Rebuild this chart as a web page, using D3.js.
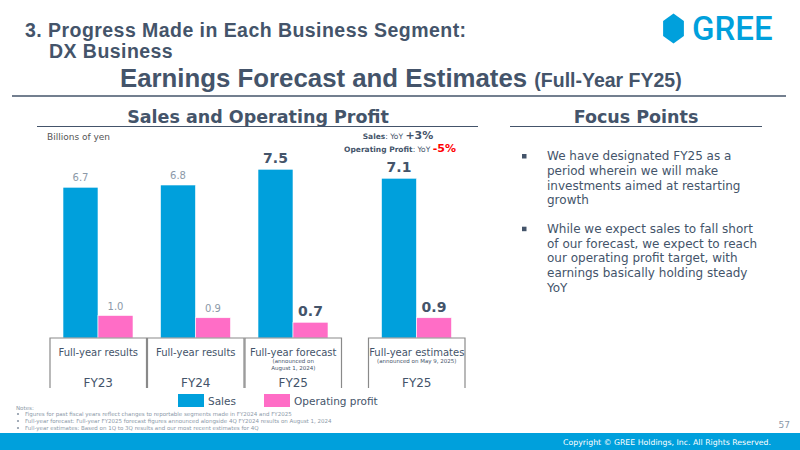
<!DOCTYPE html>
<html>
<head>
<meta charset="utf-8">
<title>DX Business - Earnings Forecast and Estimates</title>
<script src="https://cdn.jsdelivr.net/npm/d3@7"></script>
<style>
  body { margin: 0; background: #fff; }
  svg { display: block; }
  text { font-family: "DejaVu Sans", Verdana, sans-serif; }
</style>
</head>
<body>
<svg id="slide" width="800" height="450"></svg>
<script>
// ---- data ----
const fiscalYears = ["FY23", "FY24", "FY25", "FY25"];
const periodLabels = ["Full-year results", "Full-year results", "Full-year forecast", "Full-year estimates"];
const periodNotes = [[], [], ["(announced on", "August 1, 2024)"], ["(announced on May 9, 2025)"]];
const sales = [6.7, 6.8, 7.5, 7.1];
const opProfit = [1.0, 0.9, 0.7, 0.9];
const seriesNames = ["Sales", "Operating profit"];
const focusPoints = [
  ["We have designated FY25 as a", "period wherein we will make", "investments aimed at restarting", "growth"],
  ["While we expect sales to fall short", "of our forecast, we expect to reach", "our operating profit target, with", "earnings basically holding steady", "YoY"]
];
const notes = [
  "Figures for past fiscal years reflect changes to reportable segments made in FY2024 and FY2025",
  "Full-year forecast: Full-year FY2025 forecast figures announced alongside 4Q FY2024 results on August 1, 2024",
  "Full-year estimates: Based on 1Q to 3Q results and our most recent estimates for 4Q"
];

const BLUE = "#00A0DC", PINK = "#FF6DC6", DARK = "#44546A", GREY = "#8C99A8";

const svg = d3.select("#slide");

// ---- header ----
svg.append("text").attr("x", 25).attr("y", 36.5)
  .style("font-family", "'Liberation Sans', Arial, sans-serif")
  .attr("font-size", 19.5).attr("letter-spacing", 0.45).attr("font-weight", "bold").attr("fill", DARK)
  .text("3. Progress Made in Each Business Segment:");
svg.append("text").attr("x", 49).attr("y", 58)
  .style("font-family", "'Liberation Sans', Arial, sans-serif")
  .attr("font-size", 19.5).attr("letter-spacing", 0.45).attr("font-weight", "bold").attr("fill", DARK)
  .text("DX Business");

const title = svg.append("text").attr("x", 120).attr("y", 87)
  .style("font-family", "'Liberation Sans', Arial, sans-serif")
  .attr("font-weight", "bold").attr("fill", DARK);
title.append("tspan").attr("font-size", 25.8).text("Earnings Forecast and Estimates ");
title.append("tspan").attr("font-size", 19.5).text("(Full-Year FY25)");

svg.append("line").attr("x1", 12).attr("x2", 786).attr("y1", 96).attr("y2", 96)
  .attr("stroke", DARK).attr("stroke-width", 1.3);

// GREE logo
const hex = d3.range(6).map(k => {
  const a = Math.PI / 3 * k - Math.PI / 2;
  return [673.5 + 12 * Math.cos(a), 28.5 + 15 * Math.sin(a)];
});
svg.append("polygon").attr("points", hex.map(p => p.join(",")).join(" ")).attr("fill", BLUE);
svg.append("text").attr("x", 692).attr("y", 40)
  .style("font-family", "Roboto, 'Noto Sans', sans-serif")
  .attr("font-size", 33).attr("font-weight", 500).attr("fill", BLUE).text("GREE");

// ---- section titles ----
function sectionTitle(cx, x1, x2, label) {
  svg.append("text").attr("x", cx).attr("y", 123).attr("text-anchor", "middle")
    .attr("font-size", 17.5).attr("font-weight", "bold").attr("fill", DARK).text(label);
  svg.append("line").attr("x1", x1).attr("x2", x2).attr("y1", 126.5).attr("y2", 126.5)
    .attr("stroke", DARK).attr("stroke-width", 1);
}
sectionTitle(258, 37, 478, "Sales and Operating Profit");
sectionTitle(636, 510, 762, "Focus Points");

svg.append("text").attr("x", 47).attr("y", 140).attr("font-size", 9).attr("fill", "#555")
  .text("Billions of yen");

// YoY notes
const yoy1 = svg.append("text").attr("x", 398).attr("y", 139).attr("text-anchor", "middle")
  .attr("font-size", 7.5).attr("fill", DARK);
yoy1.append("tspan").attr("font-weight", "bold").text("Sales");
yoy1.append("tspan").text(": YoY ");
yoy1.append("tspan").attr("font-weight", "bold").attr("font-size", 11).text("+3%");
const yoy2 = svg.append("text").attr("x", 400).attr("y", 152).attr("text-anchor", "middle")
  .attr("font-size", 7.5).attr("fill", DARK);
yoy2.append("tspan").attr("font-weight", "bold").text("Operating Profit");
yoy2.append("tspan").text(": YoY ");
yoy2.append("tspan").attr("font-weight", "bold").attr("font-size", 11).attr("fill", "#FF0000").text("-5%");

// ---- chart ----
const baseY = 338;
const y = d3.scaleLinear().domain([0, 8]).range([baseY, baseY - 180]);
const group = d3.scaleBand().domain(d3.range(fiscalYears.length)).range([49.5, 439.5]);
// the estimates column sits apart from the other three
const gx = i => group(i) + (i === 3 ? 26 : 0);
const sub = d3.scaleBand().domain(seriesNames).range([13.5, 83.5]);
const color = d3.scaleOrdinal().domain(seriesNames).range([BLUE, PINK]);

const rows = fiscalYears.map((fy, i) => ({
  i, fy, label: periodLabels[i], note: periodNotes[i],
  vals: [{ s: seriesNames[0], v: sales[i] }, { s: seriesNames[1], v: opProfit[i] }],
  bold: i >= 2
}));

const g = svg.selectAll("g.grp").data(rows).join("g").attr("class", "grp")
  .attr("transform", d => `translate(${gx(d.i)},0)`);

g.selectAll("rect").data(d => d.vals.map(v => ({ ...v, bold: d.bold }))).join("rect")
  .attr("x", d => sub(d.s)).attr("width", sub.bandwidth())
  .attr("y", d => y(d.v)).attr("height", d => baseY - y(d.v))
  .attr("fill", d => color(d.s)).attr("stroke", "#fff").attr("stroke-width", 0.6);

g.selectAll("text.val").data(d => d.vals.map(v => ({ ...v, bold: d.bold }))).join("text")
  .attr("class", "val")
  .attr("x", d => sub(d.s) + sub.bandwidth() / 2)
  .attr("y", d => y(d.v) - 6)
  .attr("text-anchor", "middle")
  .attr("font-size", d => d.bold ? 14 : 10)
  .attr("font-weight", d => d.bold ? "bold" : "normal")
  .attr("fill", d => d.bold ? DARK : GREY)
  .text(d => d3.format(".1f")(d.v));

// category boxes
const bw = group.bandwidth();
g.append("path")
  .attr("d", `M0.5,388V${baseY}H${bw - 0.5}V388`)
  .attr("fill", "none").attr("stroke", "#8a8a8a").attr("stroke-width", 1.2);

g.append("text").attr("x", bw / 2).attr("y", 356).attr("text-anchor", "middle")
  .attr("font-size", 10).attr("fill", DARK).text(d => d.label);
g.selectAll("text.note").data(d => d.note).join("text").attr("class", "note")
  .attr("x", bw / 2).attr("y", (d, k) => 363 + k * 6.5).attr("text-anchor", "middle")
  .attr("font-size", 5.5).attr("fill", DARK).text(d => d);
g.append("text").attr("x", bw / 2).attr("y", 386.5).attr("text-anchor", "middle")
  .attr("font-size", 12).attr("fill", DARK).text(d => d.fy);

// legend
const legX = [178, 264];
const leg = svg.selectAll("g.leg").data(seriesNames).join("g").attr("class", "leg")
  .attr("transform", (d, k) => `translate(${legX[k]},394)`);
leg.append("rect").attr("width", 26).attr("height", 13).attr("fill", d => color(d));
leg.append("text").attr("x", 30).attr("y", 10.5).attr("font-size", 10.5).attr("fill", DARK).text(d => d);

// ---- focus points ----
let ly = 160;
focusPoints.forEach(p => {
  svg.append("rect").attr("x", 522).attr("y", ly - 6).attr("width", 4.5).attr("height", 4.5).attr("fill", DARK);
  p.forEach(line => {
    svg.append("text").attr("x", 547).attr("y", ly).attr("font-size", 12).attr("fill", DARK).text(line);
    ly += 14.8;
  });
  ly += 13.5;
});

// ---- notes ----
svg.append("text").attr("x", 16).attr("y", 410).attr("font-size", 5.5).attr("fill", GREY).text("Notes:");
notes.forEach((n, k) => {
  svg.append("circle").attr("cx", 18).attr("cy", 414 + k * 7).attr("r", 1.1).attr("fill", GREY);
  svg.append("text").attr("x", 25).attr("y", 416 + k * 7).attr("font-size", 5.5).attr("fill", GREY).text(n);
});

// ---- footer ----
svg.append("text").attr("x", 790).attr("y", 428).attr("text-anchor", "end")
  .attr("font-size", 9).attr("fill", GREY).text("57");
svg.append("rect").attr("x", 0).attr("y", 433).attr("width", 800).attr("height", 17).attr("fill", BLUE);
svg.append("text").attr("x", 771).attr("y", 445).attr("text-anchor", "end")
  .attr("font-size", 7.8).attr("fill", "#fff").text("Copyright © GREE Holdings, Inc. All Rights Reserved.");
</script>
</body>
</html>
